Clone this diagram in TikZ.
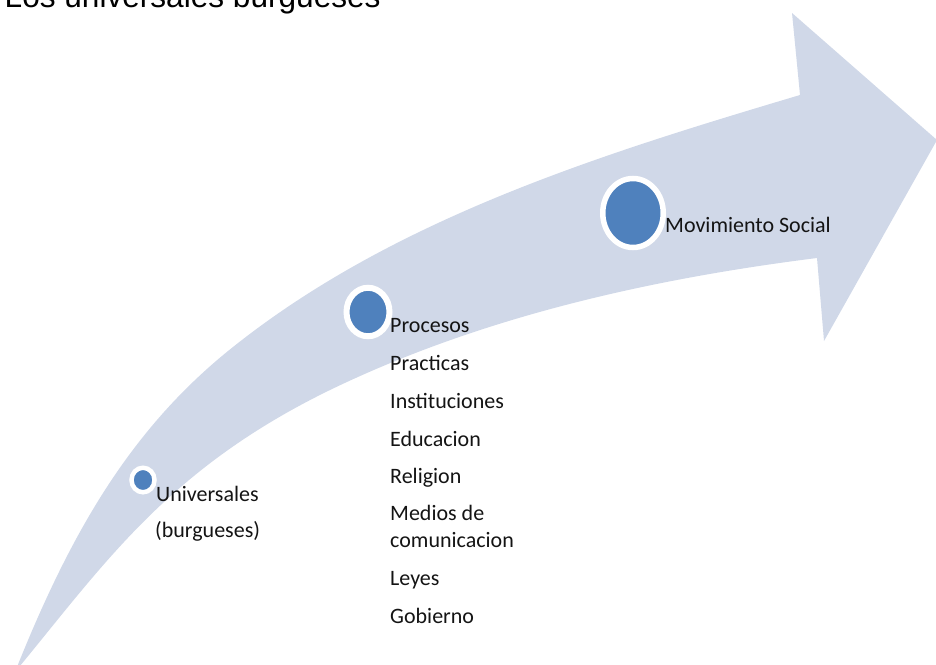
\documentclass[tikz,border=0pt]{standalone}
\usepackage{fontspec}
\setmainfont{Carlito}
\newfontfamily\titlefont{Liberation Sans}
\usetikzlibrary{shapes.geometric}
\definecolor{arrowfill}{RGB}{208,216,232}
\definecolor{dotblue}{RGB}{79,129,189}
\definecolor{labeltext}{RGB}{20,20,20}
\begin{document}
\begin{tikzpicture}[x=1pt,y=-1pt,
  dot/.style={ellipse, draw=white, fill=dotblue, inner sep=0pt},
  lbl/.style={anchor=base west, inner sep=0pt, text=labeltext,
              font=\fontsize{22}{24}\selectfont}]
\useasboundingbox (0,0) rectangle (936,664);
\clip (0,0) rectangle (936,664);
% curved block arrow
\fill[arrowfill]
  (15,672) .. controls (70.5,532.5) and (131,428) .. (233,347)
  .. controls (395,218) and (602,154) .. (800,95)
  -- (792,13) -- (937,140) -- (824,341) -- (817,258)
  .. controls (650,279) and (481,317) .. (330,390)
  .. controls (168,469) and (105,563) .. (15,672)
  -- cycle;
% title
\node[anchor=base west, inner sep=0pt, font=\titlefont\fontsize{31.6}{36}\selectfont] (title) at (4.5,7.3) {Los universales burgueses};
% dots
\node[dot, minimum width=23pt, minimum height=24.5pt, line width=4.5pt] (d1) at (143,480) {};
\node[dot, minimum width=43pt, minimum height=48.5pt, line width=6pt] (d2) at (368,312) {};
\node[dot, minimum width=60.5pt, minimum height=69pt, line width=5.5pt] (d3) at (633,213) {};
% labels
\node[lbl] (u1) at (156,501.5) {Universales};
\node[lbl] (u2) at (155,537) {(burgueses)};
\node[lbl] (p1) at (390,332) {Procesos};
\node[lbl] (p2) at (390,370) {Practicas};
\node[lbl] (p3) at (390,408) {Instituciones};
\node[lbl] (p4) at (390,446) {Educacion};
\node[lbl] (p5) at (390,483) {Religion};
\node[lbl] (p6) at (390,520) {Medios de};
\node[lbl] (p7) at (390,547) {comunicacion};
\node[lbl] (p8) at (390,585) {Leyes};
\node[lbl] (p9) at (390,623) {Gobierno};
\node[lbl] (m1) at (665,232) {Movimiento Social};
\end{tikzpicture}
\end{document}
